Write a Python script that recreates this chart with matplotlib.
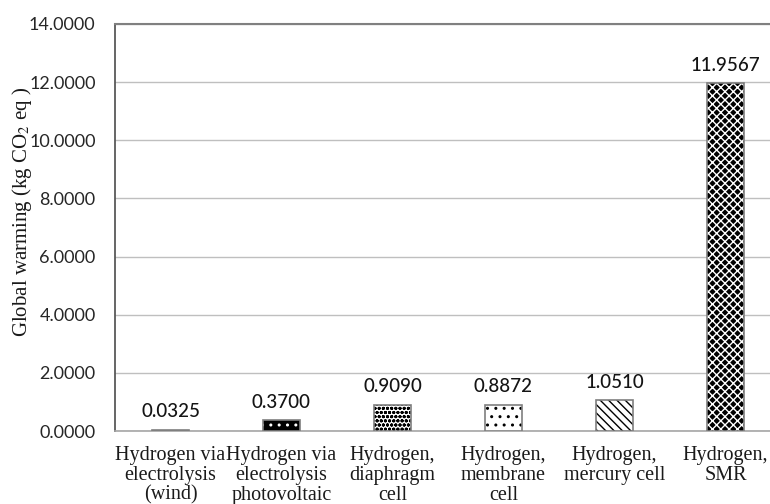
import matplotlib
matplotlib.use("Agg")
import matplotlib.pyplot as plt

categories = ["Hydrogen via\nelectrolysis\n(wind)",
              "Hydrogen via\nelectrolysis\nphotovoltaic",
              "Hydrogen,\ndiaphragm\ncell",
              "Hydrogen,\nmembrane\ncell",
              "Hydrogen,\nmercury cell",
              "Hydrogen,\nSMR"]
values = [0.0325, 0.3700, 0.9090, 0.8872, 1.0510, 11.9567]
value_labels = ["0.0325", "0.3700", "0.9090", "0.8872", "1.0510", "11.9567"]
yticks = [0, 2, 4, 6, 8, 10, 12, 14]

faces = ["#d0d0d0", "black", "white", "white", "white", "black"]
hatch_colors = ["#d0d0d0", "white", "black", "black", "black", "white"]
hatches = [None, "..", "oooo", "..", "\\\\\\\\", "xxxx"]

plt.rcParams['mathtext.fontset'] = 'stix'
plt.rcParams['hatch.linewidth'] = 1.0

fig = plt.figure(figsize=(7.7, 5.04), dpi=100)
ax = fig.add_axes([115/770, 73/504, 666/770, 407/504])

x = list(range(len(categories)))
for i in x:
    ax.bar(i, values[i], width=0.34, color=faces[i], edgecolor=hatch_colors[i],
           hatch=hatches[i], linewidth=0, zorder=3)
ax.bar(x, values, width=0.34, fill=False, edgecolor="#7f7f7f", linewidth=1.2, zorder=4)

for i in x:
    ax.annotate(value_labels[i], (i, values[i]), xytext=(0, 7), textcoords="offset points",
                ha="center", va="bottom", fontsize=13.5, family="Lato",
                fontweight="medium", color="#141414")

ax.set_xlim(-0.5, 5.5)
ax.set_ylim(0, 14)
ax.set_yticks(yticks)
ax.set_yticklabels([f"{v:.4f}" for v in yticks], family="Lato", fontsize=13, color="#262626")
ax.set_xticks(x)
ax.set_xticklabels(categories, family="Liberation Serif", fontsize=14.5, color="#1a1a1a",
                   linespacing=1.05)
ax.tick_params(axis="y", length=0, pad=14)
ax.tick_params(axis="x", length=0, pad=11)
ax.yaxis.grid(True, color="#bfbfbf", linewidth=1.0, zorder=0)
ax.set_axisbelow(True)

ax.spines["left"].set_color("#595959")
ax.spines["left"].set_linewidth(1.3)
ax.spines["top"].set_color("#808080")
ax.spines["top"].set_linewidth(1.5)
ax.spines["bottom"].set_color("#a6a6a6")
ax.spines["bottom"].set_linewidth(1.2)
ax.spines["right"].set_visible(False)

fig.text(22/770, 1 - 212/504, r"Global warming (kg CO$_2$ eq )", rotation=90,
         ha="center", va="center", family="Liberation Serif", fontsize=15, color="#1a1a1a")

fig.savefig("out.png", dpi=100)
